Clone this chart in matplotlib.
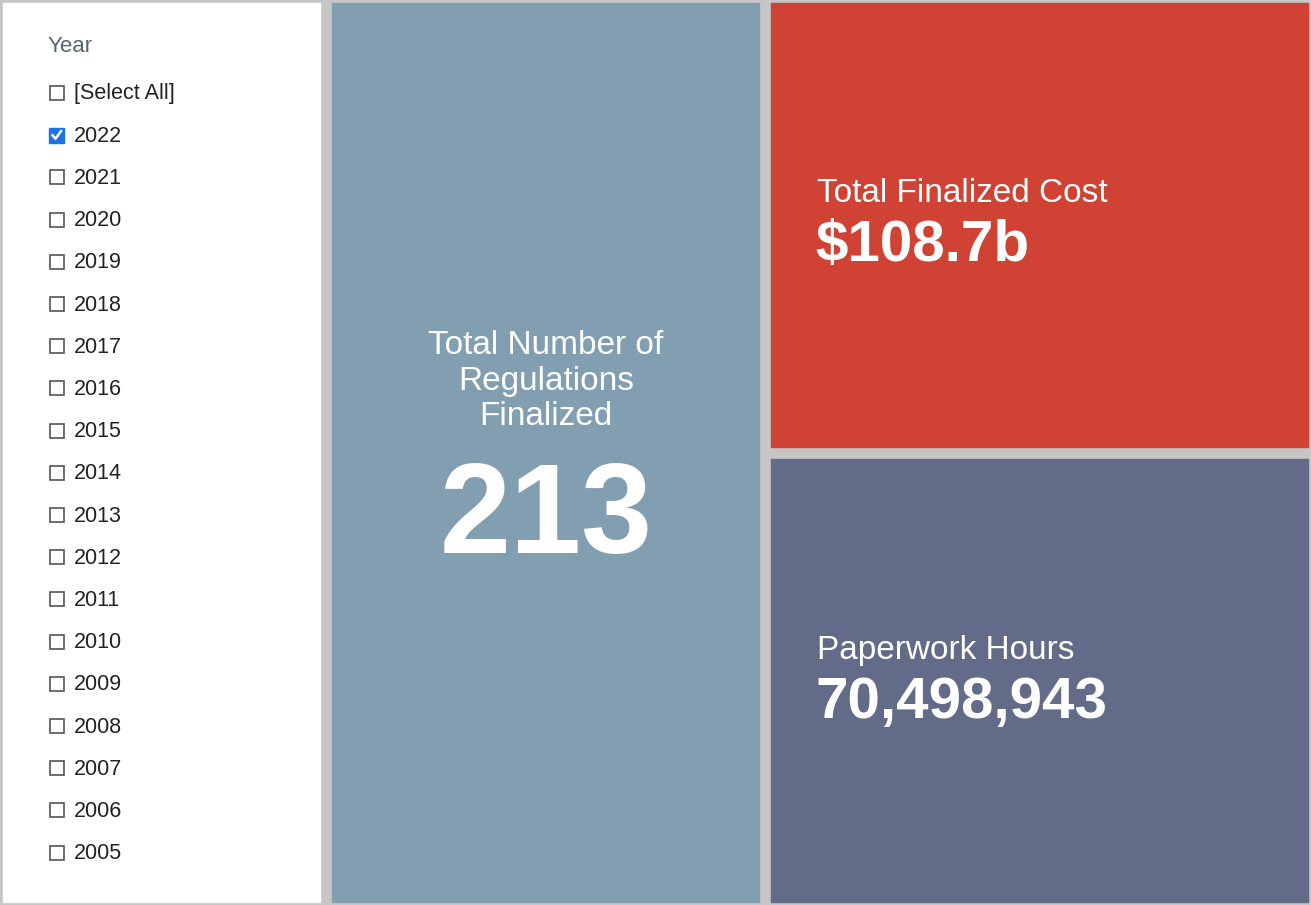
import matplotlib
matplotlib.use('Agg')
import matplotlib.pyplot as plt
from matplotlib.patches import Rectangle

years = ['[Select All]', '2022', '2021', '2020', '2019', '2018', '2017', '2016', '2015',
         '2014', '2013', '2012', '2011', '2010', '2009', '2008', '2007', '2006', '2005']
checked = ['2022']
reg_label = 'Total Number of\nRegulations\nFinalized'
reg_count = 213
cost_label = 'Total Finalized Cost'
cost_value = 108.7
hours_label = 'Paperwork Hours'
hours_value = 70498943

W, H = 1311, 905
fig = plt.figure(figsize=(W / 100, H / 100), dpi=100)
fig.patch.set_facecolor('#c6c6c6')
ax = fig.add_axes([0, 0, 1, 1])
ax.set_xlim(0, W)
ax.set_ylim(H, 0)
ax.axis('off')

font = 'Liberation Sans'

# panels
ax.add_patch(Rectangle((3, 3), 317, 899, color='white'))
ax.add_patch(Rectangle((332, 3), 427, 899, color='#819fb0'))
ax.add_patch(Rectangle((771, 3), 537, 444, color='#d04233'))
ax.add_patch(Rectangle((771, 459), 537, 443, color='#626c88'))

# slicer
ax.text(48, 47, 'Year', fontsize=16, color='#5a6370', family=font, va='center')
y0, dy = 93, 42.2
for i, yr in enumerate(years):
    y = y0 + i * dy
    if yr in checked:
        ax.add_patch(Rectangle((49, y - 7.5), 15, 15, facecolor='#1a73e8', edgecolor='#1a73e8', lw=1))
        ax.plot([52.5, 55.5, 61], [y, y + 3.5, y - 4], color='white', lw=1.8)
    else:
        ax.add_patch(Rectangle((49.5, y - 7), 14, 14, facecolor='white', edgecolor='#555555', lw=1.2))
    ax.text(74, y + 1, yr, fontsize=15.5, color='#222222', family=font, va='center')

# cards
ax.text(546, 381, reg_label, fontsize=24, color='white', family=font,
        ha='center', va='center', linespacing=1.2)
ax.text(546, 520, f'{reg_count}', fontsize=92, color='white', family=font,
        weight='bold', ha='center', va='center')

ax.text(817, 193, cost_label, fontsize=24, color='white', family=font, va='center')
ax.text(815, 246, f'${cost_value}b', fontsize=42, color='white', family=font,
        weight='bold', va='center')

ax.text(817, 650, hours_label, fontsize=24, color='white', family=font, va='center')
ax.text(815, 703, f'{hours_value:,}', fontsize=42, color='white', family=font,
        weight='bold', va='center')

fig.savefig('out.png', dpi=100, facecolor=fig.get_facecolor())
